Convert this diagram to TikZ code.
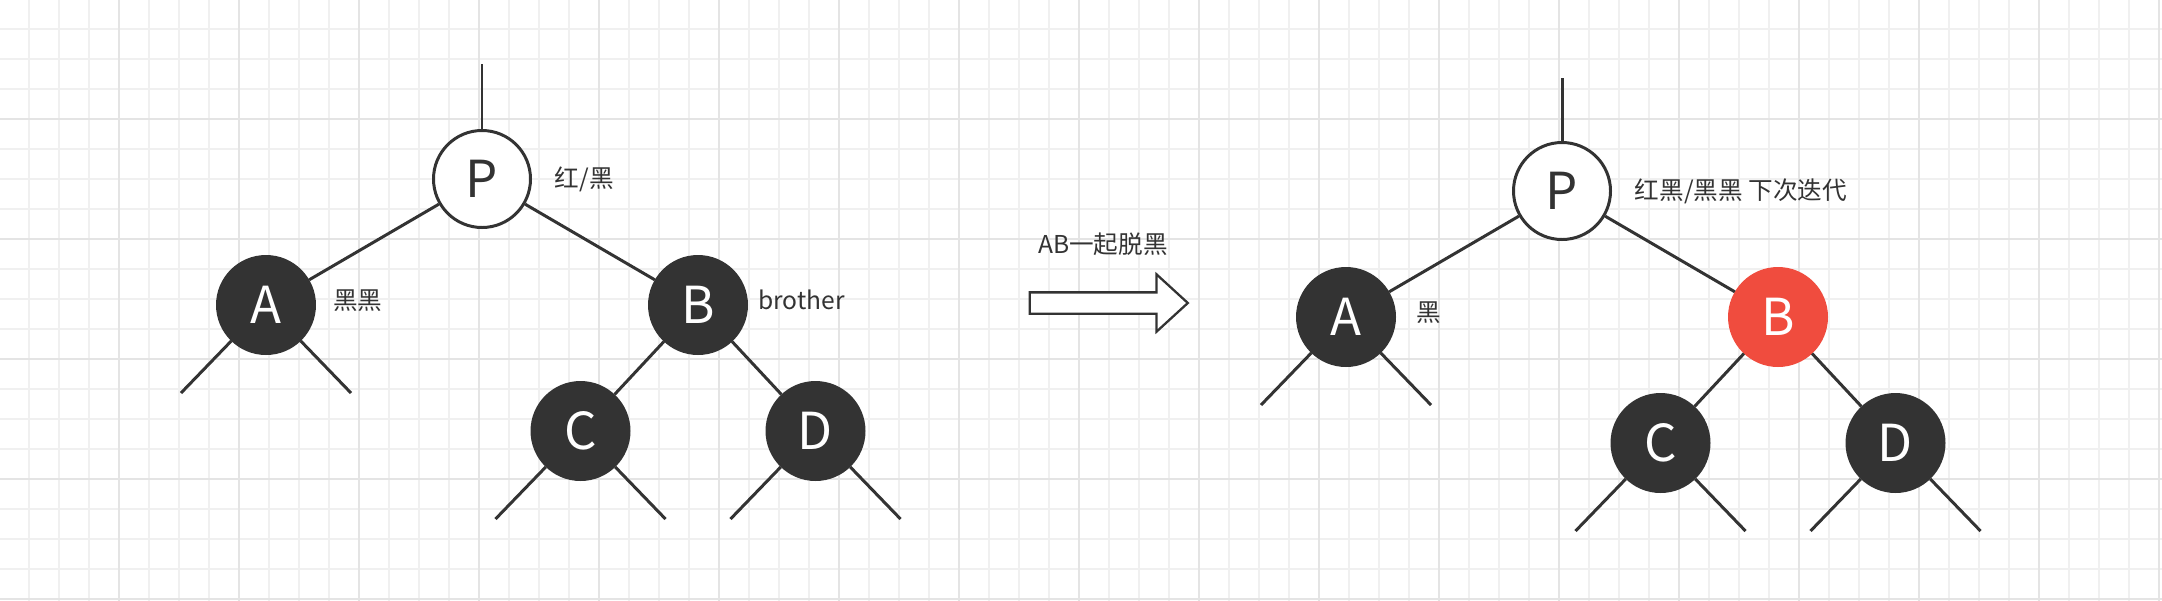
\documentclass[tikz,border=0pt]{standalone}
\usepackage{fontspec}
\setmainfont{Noto Sans CJK SC}
\usetikzlibrary{positioning,shapes.arrows}
\definecolor{ink}{HTML}{333333}
\definecolor{redfill}{RGB}{240,76,62}
\definecolor{gridthin}{HTML}{F0F0F0}
\definecolor{gridbold}{HTML}{E4E4E4}

\begin{document}
\begin{tikzpicture}[
    whitenode/.style={circle, on grid, draw=ink, fill=white, line width=1.7pt, minimum size=1.94cm, inner sep=0pt, text=ink, font=\fontsize{29}{30}\selectfont},
    blacknode/.style={whitenode, fill=ink, text=white},
    rednode/.style={whitenode, draw=redfill, fill=redfill, text=white},
    note/.style={inner sep=0pt, text=ink, font=\fontsize{14}{16}\selectfont},
    branch/.style={draw=ink, line width=1.7pt},
    bigarrow/.style={single arrow, draw=ink, fill=white, line width=1.3pt, inner sep=0.19cm, single arrow head extend=0.36cm, single arrow tip angle=85, minimum height=3.16cm}
    ]
        %Background
        \useasboundingbox (0,0) rectangle (43.24,-12);
        \fill[white] (0,0) rectangle (43.24,-12);
        \draw[gridthin, line width=1pt, shift={(-0.02,0.02)}] (0,0) grid[step=0.6] (43.3,-12.1);
        \draw[gridbold, line width=1.3pt, shift={(-0.02,0.02)}] (0,0) grid[step=2.4] (43.3,-12.1);

        %Nodes (before)
        \node[whitenode]    
            (lP)    at (9.64,-3.58)                         {P};
        \node[blacknode]    
            (lA)    [below left=2.52cm and 4.32cm of lP]    {A};
        \node[blacknode]    
            (lB)    [below right=2.52cm and 4.32cm of lP]   {B};
        \node[blacknode]    
            (lC)    [below left=2.52cm and 2.35cm of lB]    {C};
        \node[blacknode]    
            (lD)    [below right=2.52cm and 2.35cm of lB]   {D};
        \coordinate[above=2.3cm of lP.center] (lTop);

        \node[note] (lPnote) [right=0.45cm of lP]              {红/黑};
        \node[note] (lAnote) [right=0.34cm of lA, yshift=0.08cm] {黑黑};
        \node[note] (lBnote) [right=0.2cm of lB, yshift=0.1cm]   {brother};

        %Arrow
        \node[bigarrow] (arrw) at (22.06,-6.06) {};
        \node[note] (arrwnote) [above=0.94cm of arrw.center] {AB一起脱黑};

        %Nodes (after)
        \node[whitenode]    
            (rP)    at (31.24,-3.82)                        {P};
        \node[blacknode]    
            (rA)    [below left=2.52cm and 4.32cm of rP]    {A};
        \node[rednode]    
            (rB)    [below right=2.52cm and 4.32cm of rP]   {B};
        \node[blacknode]    
            (rC)    [below left=2.52cm and 2.35cm of rB]    {C};
        \node[blacknode]    
            (rD)    [below right=2.52cm and 2.35cm of rB]   {D};
        \coordinate[above=2.26cm of rP.center] (rTop);

        \node[note] (rPnote) [right=0.45cm of rP]              {红黑/黑黑 下次迭代};
        \node[note] (rAnote) [right=0.4cm of rA, yshift=0.08cm]  {黑};

        %Lines
        \draw[branch] (lP) -- (lTop);
        \draw[branch] (lP) -- (lA);
        \draw[branch] (lP) -- (lB);
        \draw[branch] (lB) -- (lC);
        \draw[branch] (lB) -- (lD);
        \draw[branch] (rP) -- (rTop);
        \draw[branch] (rP) -- (rA);
        \draw[branch] (rP) -- (rB);
        \draw[branch] (rB) -- (rC);
        \draw[branch] (rB) -- (rD);
        \foreach \n in {lA,lC,lD,rA,rC,rD}{
            \coordinate[below left=1.76cm and 1.7cm of \n.center] (\n1);
            \coordinate[below right=1.76cm and 1.7cm of \n.center] (\n2);
            \draw[branch] (\n) -- (\n1) (\n) -- (\n2);
        }
    \end{tikzpicture}
\end{document}
